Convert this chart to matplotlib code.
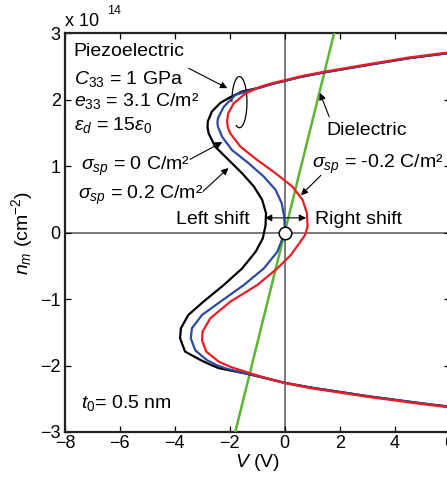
import matplotlib
matplotlib.use('Agg')
import matplotlib.pyplot as plt
from matplotlib.patches import Arc

# Curves: bias V (V) against n_m (x 10^14 cm^-2)
# sigma_sp = 0.2 C/m^2 (black, left shift)
n_black = [2.70, 2.62, 2.52, 2.41, 2.34, 2.28, 2.235, 2.18, 2.12, 2.03, 1.95, 1.82,
           1.67, 1.58, 1.49, 1.29, 1.09, 0.89, 0.69, 0.49, 0.29, 0.10, -0.09,
           -0.29, -0.54, -0.79, -1.04, -1.24, -1.44, -1.59, -1.79, -1.91, -1.98,
           -2.04, -2.13, -2.26, -2.335, -2.40, -2.46, -2.515, -2.57, -2.62]
v_black = [6.0, 4.5, 3.04, 1.47, 0.59, 0.0, -0.45, -0.9, -1.55, -2.0, -2.34, -2.65,
           -2.80, -2.81, -2.77, -2.53, -2.04, -1.55, -1.12, -0.82, -0.68, -0.70, -0.80,
           -1.06, -1.55, -2.22, -2.96, -3.51, -3.78, -3.81, -3.63, -3.10, -2.75,
           -2.40, -1.31, 0.0, 1.0, 2.05, 3.0, 4.0, 5.0, 6.0]

# sigma_sp = 0 C/m^2 (blue)
n_blue = [2.70, 2.62, 2.52, 2.41, 2.34, 2.28, 2.235, 2.18, 2.07, 1.89, 1.72, 1.65,
          1.59, 1.44, 1.24, 1.04, 0.84, 0.64, 0.44, 0.24, 0.09, 0.0, -0.09, -0.29,
          -0.54, -0.79, -1.04, -1.24, -1.44, -1.59, -1.77, -1.92, -2.00, -2.05,
          -2.13, -2.26, -2.335, -2.40, -2.46, -2.515, -2.57, -2.62]
v_blue = [6.0, 4.5, 3.04, 1.47, 0.59, 0.0, -0.45, -0.9, -1.79, -2.22, -2.43, -2.45,
          -2.43, -2.28, -1.92, -1.31, -0.76, -0.33, -0.11, -0.02, 0.0, -0.02, -0.08, -0.27,
          -0.76, -1.49, -2.34, -3.01, -3.38, -3.42, -3.26, -2.83, -2.45, -2.10,
          -1.31, 0.0, 1.0, 2.05, 3.0, 4.0, 5.0, 6.0]

# sigma_sp = -0.2 C/m^2 (red, right shift)
n_red = [2.71, 2.63, 2.53, 2.42, 2.35, 2.29, 2.245, 2.19, 2.09, 1.94, 1.79, 1.67,
         1.58, 1.49, 1.29, 1.09, 0.89, 0.69, 0.49, 0.29, 0.09, -0.04, -0.15, -0.34,
         -0.54, -0.79, -1.04, -1.29, -1.49, -1.62, -1.79, -1.94, -2.02, -2.07,
         -2.15, -2.265, -2.345, -2.41, -2.47, -2.525, -2.58, -2.63]
v_red = [6.0, 4.5, 3.04, 1.47, 0.59, 0.0, -0.45, -0.9, -1.43, -1.86, -2.06, -2.10,
         -2.07, -1.98, -1.61, -1.0, -0.33, 0.28, 0.65, 0.81, 0.83, 0.74, 0.55, 0.22,
         -0.27, -1.0, -1.98, -2.71, -2.99, -3.01, -2.86, -2.41, -1.98, -1.61,
         -1.0, 0.0, 1.0, 2.05, 3.0, 4.0, 5.0, 6.0]

# Dielectric line (green)
n_diel = [-3.0, 3.0]
v_diel = [-1.8, 1.8]

# Axis ranges and ticks
x_ticks = [-8, -6, -4, -2, 0, 2, 4, 6]
y_ticks = [-3, -2, -1, 0, 1, 2, 3]

plt.rcParams['font.family'] = ['Liberation Sans', 'DejaVu Sans']
plt.rcParams['mathtext.fontset'] = 'custom'
plt.rcParams['mathtext.rm'] = 'Liberation Sans'
plt.rcParams['mathtext.it'] = 'Liberation Sans:italic'
plt.rcParams['mathtext.bf'] = 'Liberation Sans:bold'

fig = plt.figure(figsize=(4.47, 4.87), dpi=100)
# right spine sits just past the picture edge, as in the reference
ax = fig.add_axes([65 / 447, 55 / 487, 384.5 / 447, 399 / 487])

# Zero lines
ax.axvline(0, color='#555555', lw=1.1, zorder=1)
ax.axhline(0, color='#555555', lw=1.1, zorder=1)

# Winding symbol round the bundle of curves
ax.add_patch(Arc((-1.65, 1.96), 0.55, 0.77, theta1=-110, theta2=180,
                 color='black', lw=0.9, zorder=2))

# Curves
line_kw = dict(lw=1.6, solid_joinstyle='round', solid_capstyle='round')
ax.plot(v_diel, n_diel, color='#5cb531', lw=1.8, zorder=3)
ax.plot(v_black, n_black, color='black', zorder=4, **line_kw)
ax.plot(v_blue, n_blue, color='#2c4a9e', zorder=4, **line_kw)
ax.plot(v_red, n_red, color='#ec1c24', zorder=5, **line_kw)

# Origin marker
ax.plot([0], [0], 'o', ms=9, mfc='white', mec='black', mew=1.1, zorder=6)

ax.set_xlim(-8, 6)
ax.set_ylim(-3, 3)
ax.set_xticks(x_ticks)
ax.set_yticks(y_ticks)
ax.tick_params(direction='in', top=True, right=True, length=4, width=0.9,
               labelsize=13, pad=3)
ax.tick_params(axis='x', pad=2)
for s in ax.spines.values():
    s.set_linewidth(1.6)
    s.set_color('#222222')

ax.set_xlabel(r'$V$ (V)', fontsize=14, labelpad=0)
ax.set_ylabel(r'$n_m$ (cm$^{-2}$)', fontsize=14, labelpad=4)

# Exponent above the axis
fig.text(65 / 447, 1 - 22 / 487, 'x 10', fontsize=13, ha='left', va='center')
fig.text(107 / 447, 1 - 11 / 487, '14', fontsize=9, ha='left', va='center')

# Labels
fs = 14
ax.text(-7.69, 2.72, 'Piezoelectric', fontsize=fs, ha='left', va='center')
ax.text(-7.69, 2.31, r'$C_{\mathit{33}}$ = 1 GPa', fontsize=fs, ha='left', va='center')
ax.text(-7.69, 1.98, r'$e_{\mathit{33}}$ = 3.1 C/m²', fontsize=fs, ha='left', va='center')
ax.text(-7.69, 1.62, r'$\varepsilon_d$ = 15$\varepsilon_{\mathit{0}}$', fontsize=fs,
        ha='left', va='center')
ax.text(-7.40, 0.99, r'$\sigma_{sp}$ = 0 C/m²', fontsize=fs, ha='left', va='center')
ax.text(-7.52, 0.56, r'$\sigma_{sp}$ = 0.2 C/m²', fontsize=fs, ha='left', va='center')
ax.text(-3.95, 0.20, 'Left shift', fontsize=fs, ha='left', va='center')
ax.text(1.10, 0.20, 'Right shift', fontsize=fs, ha='left', va='center')
ax.text(1.52, 1.53, 'Dielectric', fontsize=fs, ha='left', va='center')
ax.text(1.00, 1.02, r'$\sigma_{sp}$ = -0.2 C/m²', fontsize=fs, ha='left', va='center')
ax.text(-7.40, -2.56, r'$t_{\mathit{0}}$= 0.5 nm', fontsize=fs, ha='left', va='center')

# Arrows
arrow = dict(arrowstyle='-|>', color='black', lw=0.8, mutation_scale=10,
             shrinkA=0, shrinkB=0)
ax.annotate('', xy=(-2.09, 2.17), xytext=(-3.5, 2.47), arrowprops=arrow)
ax.annotate('', xy=(-2.27, 1.36), xytext=(-3.45, 1.10), arrowprops=arrow)
ax.annotate('', xy=(-2.05, 0.97), xytext=(-2.97, 0.62), arrowprops=arrow)
ax.annotate('', xy=(1.28, 2.10), xytext=(1.62, 1.74), arrowprops=arrow)
ax.annotate('', xy=(0.59, 0.56), xytext=(1.32, 0.86), arrowprops=arrow)
ax.annotate('', xy=(-0.72, 0.22), xytext=(0.0, 0.22), arrowprops=arrow)
ax.annotate('', xy=(0.78, 0.22), xytext=(0.0, 0.22), arrowprops=arrow)

fig.savefig('out.png', dpi=100)
